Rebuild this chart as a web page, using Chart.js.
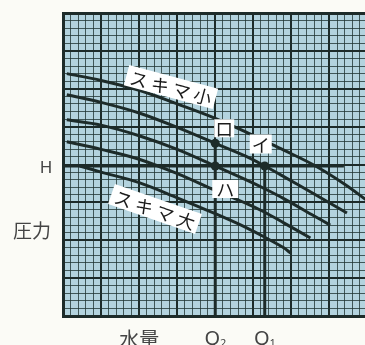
<!DOCTYPE html>
<html lang="ja">
<head>
<meta charset="UTF-8">
<style>
  html, body { margin: 0; padding: 0; overflow: hidden; background: #fbfbf6; }
  #pump-chart { display: block; }
</style>
</head>
<body>
<canvas id="pump-chart" width="372" height="345"></canvas>
<script src="https://cdn.jsdelivr.net/npm/chart.js@4.4.1/dist/chart.umd.min.js"></script>
<script>
// one unit = one small square of the grid, heavy line every 5
var gridMax = 40;

var headH = 19.8;   // 圧力 H
var flowQ1 = 26.5;  // 水量 Q1
var flowQ2 = 20;    // 水量 Q2
var pointRo = 22.8; // ロ : small gap curve at Q2

// pump curves, smallest gap on top
var curve1X = [0.5, 5, 10, 15, 20, 24, 26.5, 29, 33, 37, 40];
var curve1Y = [32.0, 31.1, 29.8, 28.0, 26.1, 24.3, 23.1, 21.9, 19.9, 17.4, 15.2];
var curve2X = [0.5, 5, 10, 15, 20, 24, 26.5, 29, 33, 37.3];
var curve2Y = [29.2, 28.2, 26.8, 24.9, 22.8, 21.1, 19.8, 18.4, 16.1, 13.6];
var curve3X = [0.5, 5, 10, 15, 20, 24, 26.5, 29, 33, 35.1];
var curve3Y = [25.9, 25.2, 23.8, 22.0, 19.8, 18.0, 16.8, 15.5, 13.2, 12.0];
var curve4X = [0.5, 5, 10, 15, 20, 24, 26.5, 29, 32.5];
var curve4Y = [23.0, 22.0, 20.7, 18.8, 16.6, 14.9, 13.7, 12.3, 10.3];
var curve5X = [2.2, 5, 10, 15, 20, 24, 26.5, 29, 29.9];
var curve5Y = [19.8, 19.0, 17.6, 15.6, 13.5, 11.7, 10.4, 9.0, 8.3];
var headLineEnd = 36.9;

var ink = '#1d2b29';

function pts(xs, ys) {
    return xs.map(function (v, i) { return { x: v, y: ys[i] }; });
}

function curve(xs, ys) {
    return {
        data: pts(xs, ys),
        showLine: true,
        borderColor: ink,
        borderWidth: 3,
        pointRadius: 0,
        tension: 0.35,
        order: 2
    };
}

function straight(data) {
    return {
        data: data,
        showLine: true,
        borderColor: ink,
        borderWidth: 3,
        pointRadius: 0,
        order: 2
    };
}

function gridWidth(c) {
    var v = c.tick ? c.tick.value : 0;
    if (v === gridMax) return 3;
    return v % 5 === 0 ? 2 : 1;
}

function gridColor(c) {
    var v = c.tick ? c.tick.value : 0;
    return v % 5 === 0 ? ink : 'rgba(32, 52, 50, 0.78)';
}

// white label box, text spread along a tilted baseline
function tag(ctx, text, cx, cy, angle, gap, w, h) {
    ctx.save();
    ctx.translate(cx, cy);
    ctx.rotate(angle * Math.PI / 180);
    ctx.fillStyle = '#ffffff';
    ctx.fillRect(-w / 2, -h / 2, w, h);
    ctx.fillStyle = '#1a1a1a';
    ctx.font = '18px "Noto Sans CJK JP"';
    ctx.textAlign = 'center';
    ctx.textBaseline = 'middle';
    var chars = Array.from(text);
    var start = -gap * (chars.length - 1) / 2;
    chars.forEach(function (ch, i) {
        ctx.fillText(ch, start + i * gap, 1);
    });
    ctx.restore();
}

function qLabel(ctx, px, py, sub) {
    ctx.font = '20px "Noto Sans"';
    ctx.textAlign = 'center';
    ctx.fillText('Q', px - 3, py);
    ctx.font = '11px "Noto Sans"';
    ctx.fillText(sub, px + 8, py + 5);
}

var paper = {
    id: 'paper',
    beforeDraw: function (chart) {
        var ctx = chart.ctx, a = chart.chartArea;
        ctx.save();
        ctx.fillStyle = '#fbfbf6';
        ctx.fillRect(0, 0, chart.width, chart.height);
        ctx.fillStyle = '#b3d3de';
        ctx.fillRect(a.left, a.top, a.right - a.left, a.bottom - a.top);
        ctx.restore();
    }
};

var notes = {
    id: 'notes',
    afterDatasetsDraw: function (chart) {
        var ctx = chart.ctx;
        var x = chart.scales.x, y = chart.scales.y;
        var q2 = x.getPixelForValue(flowQ2), q1 = x.getPixelForValue(flowQ1);
        var hy = y.getPixelForValue(headH), ro = y.getPixelForValue(pointRo);

        tag(ctx, 'スキマ小', 171, 87, 15, 22, 92, 21);
        tag(ctx, 'スキマ大', 155, 209, 19, 22, 92, 21);
        tag(ctx, 'ロ', q2 + 9, ro - 15, 0, 0, 20, 18);
        tag(ctx, 'イ', q1 - 4, hy - 22, 0, 0, 22, 19);
        tag(ctx, 'ハ', q2 + 10, hy + 23, 0, 0, 26, 18);

        ctx.save();
        ctx.fillStyle = '#444444';
        ctx.textBaseline = 'middle';
        ctx.textAlign = 'center';
        ctx.font = '17px "Noto Sans"';
        ctx.fillText('H', 46, hy + 2);
        ctx.font = '19px "Noto Sans CJK JP"';
        ctx.fillText('圧力', 32, 231);
        ctx.font = '20px "Noto Sans CJK JP"';
        ctx.fillText('水量', x.getPixelForValue(10), 339);
        qLabel(ctx, q2, 339, '2');
        qLabel(ctx, q1, 339, '1');
        ctx.restore();
    }
};

var chart = new Chart(document.getElementById('pump-chart').getContext('2d'), {
    type: 'scatter',
    data: {
        datasets: [
            {
                data: [{ x: flowQ2, y: pointRo }, { x: flowQ2, y: headH }, { x: flowQ1, y: headH }],
                pointRadius: 4.5,
                pointBackgroundColor: ink,
                pointBorderWidth: 0,
                order: 0
            },
            curve(curve1X, curve1Y),
            curve(curve2X, curve2Y),
            curve(curve3X, curve3Y),
            curve(curve4X, curve4Y),
            curve(curve5X, curve5Y),
            straight([{ x: 0, y: headH }, { x: headLineEnd, y: headH }]),
            straight([{ x: flowQ2, y: 0 }, { x: flowQ2, y: pointRo }]),
            straight([{ x: flowQ1, y: 0 }, { x: flowQ1, y: headH }])
        ]
    },
    options: {
        responsive: false,
        animation: false,
        devicePixelRatio: 1,
        layout: { padding: { left: 63, top: 13, right: 1, bottom: 29 } },
        plugins: { legend: { display: false }, tooltip: { enabled: false } },
        scales: {
            x: {
                type: 'linear', min: 0, max: gridMax,
                ticks: { display: false, stepSize: 1, autoSkip: false },
                grid: { color: gridColor, lineWidth: gridWidth, drawTicks: false },
                border: { color: ink, width: 3 }
            },
            y: {
                type: 'linear', min: 0, max: gridMax,
                ticks: { display: false, stepSize: 1, autoSkip: false },
                grid: { color: gridColor, lineWidth: gridWidth, drawTicks: false },
                border: { color: ink, width: 3 }
            }
        }
    },
    plugins: [paper, notes]
});
</script>
</body>
</html>
